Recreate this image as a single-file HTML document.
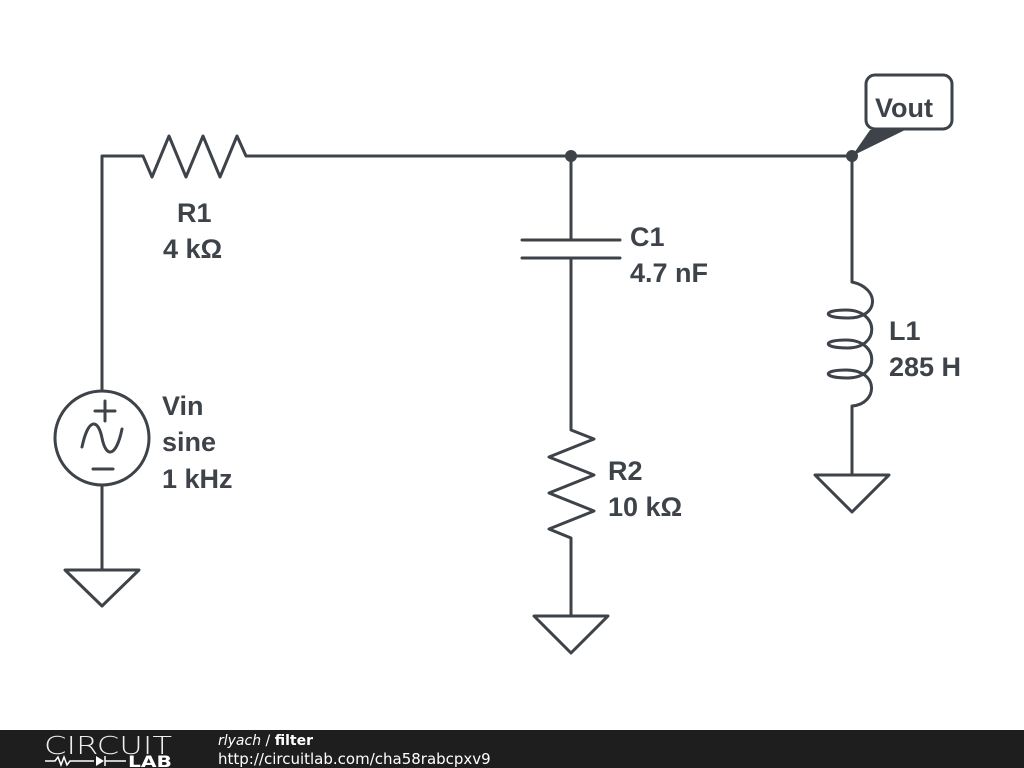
<!DOCTYPE html>
<html><head><meta charset="utf-8"><style>
html,body{margin:0;padding:0;background:#fff;width:1024px;height:768px;overflow:hidden}
svg{display:block}
.t{font-family:"Liberation Sans",Arial,sans-serif;font-weight:bold;font-size:27px;fill:#3d4349}
</style></head><body>
<svg width="1024" height="768" viewBox="0 0 1024 768" xmlns="http://www.w3.org/2000/svg">
<g fill="none" stroke="#3d4349" stroke-width="3" stroke-linejoin="round" stroke-linecap="round">
<polyline points="102,390 102,156 143,156 152,177 169,136 186,177 203,136 220,177 237,136 246,156 852,156"/>
<circle cx="102" cy="438" r="47"/>
<path d="M82,447 C88,418 98,418 102,438 C106,458 116,458 122,429"/>
<line x1="95" y1="411" x2="115" y2="411"/><line x1="105" y1="401" x2="105" y2="421"/>
<line x1="93" y1="469" x2="113" y2="469"/>
<line x1="102" y1="486" x2="102" y2="570"/>
<polygon points="65,570 139,570 102,606"/>
<line x1="571" y1="156" x2="571" y2="240"/>
<line x1="522" y1="240" x2="620" y2="240"/>
<line x1="522" y1="258" x2="620" y2="258"/>
<polyline points="571,258 571,430 594,439 549,457 594,475 549,493 594,511 549,529 571,538 571,616"/>
<polygon points="534,616 608,616 571,653"/>
<line x1="852" y1="156" x2="852" y2="282"/>
<path d="M852,282 C880,288 880,318 848,318 C822,318 822,310 846,310 C880,310 880,348 848,348 C822,348 822,340 846,340 C880,340 880,378 848,378 C822,378 822,370 846,370 C880,370 878,404 852,406 L852,475"/>
<polygon points="815,475 889,475 852,512"/>
<rect x="866" y="75" width="86" height="54" rx="9" fill="#fff"/>
</g>
<polygon points="852,156 870,130 905,130" fill="#3d4349"/>
<circle cx="571" cy="156" r="6" fill="#3d4349"/>
<circle cx="852" cy="156" r="6" fill="#3d4349"/>
<g class="t">
<text x="875" y="117">Vout</text>
<text x="177" y="222">R1</text><text x="163" y="258">4 kΩ</text>
<text x="630" y="246">C1</text><text x="630" y="282">4.7 nF</text>
<text x="889" y="340">L1</text><text x="889" y="376">285 H</text>
<text x="608" y="480">R2</text><text x="608" y="516">10 kΩ</text>
<text x="162" y="415">Vin</text><text x="162" y="451">sine</text><text x="162" y="488">1 kHz</text>
</g>
<rect x="0" y="730" width="1024" height="38" fill="#1e1e1e"/>
<g fill="#fff" font-family="'DejaVu Sans', sans-serif">
<text x="44" y="754" font-size="25" font-weight="300" textLength="128" lengthAdjust="spacingAndGlyphs" fill="#eee">CIRCUIT</text>
<text x="128" y="767" font-size="16" font-weight="bold" textLength="44" lengthAdjust="spacingAndGlyphs">LAB</text>
<text x="218" y="745" font-size="14"><tspan font-style="italic">rlyach</tspan> / <tspan font-weight="bold">filter</tspan></text>
<text x="218" y="764" font-size="15">http://circuitlab.com/cha58rabcpxv9</text>
</g>
<polyline points="45,761 55,761 58,757 61,765 64,757 67,765 70,761 94,761" fill="none" stroke="#fff" stroke-width="1.5"/>
<polygon points="96,756 96,766 104,761" fill="#fff"/>
<line x1="105" y1="756" x2="105" y2="766" stroke="#fff" stroke-width="1.5"/>
<line x1="105" y1="761" x2="126" y2="761" stroke="#fff" stroke-width="1.5"/>
</svg>
</body></html>
